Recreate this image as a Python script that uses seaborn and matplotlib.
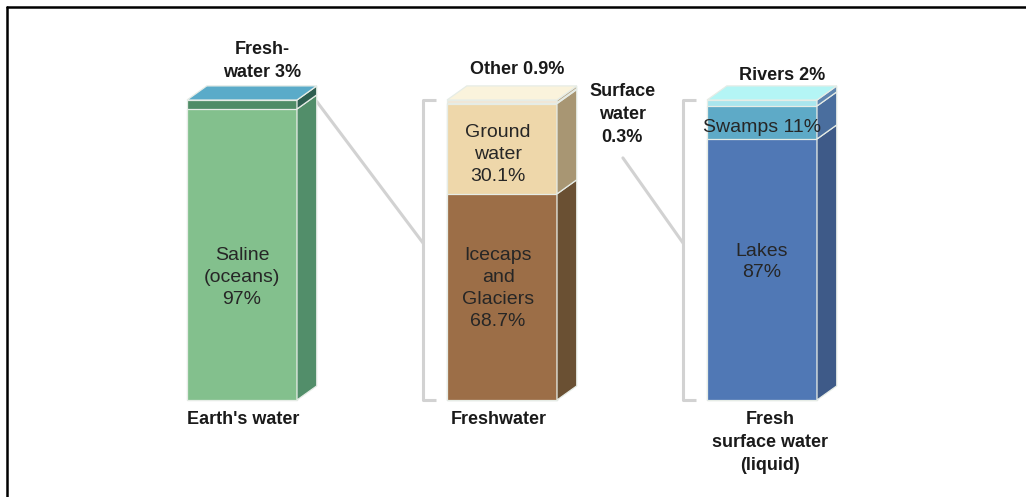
import matplotlib
matplotlib.use("Agg")
import matplotlib.pyplot as plt
from matplotlib import font_manager
from matplotlib.patches import Polygon
from matplotlib.lines import Line2D
import pandas as pd
import seaborn as sns

# ---- data -------------------------------------------------------------
categories = ["Earth's water", "Freshwater", "Fresh surface water (liquid)"]
category_labels = ["Earth's water", "Freshwater", "Fresh\nsurface water\n(liquid)"]

earth_parts = ["Saline (oceans)", "Freshwater"]
earth_values = [97.0, 3.0]

fresh_parts = ["Icecaps and Glaciers", "Ground water", "Surface water", "Other"]
fresh_values = [68.7, 30.1, 0.3, 0.9]

surface_parts = ["Lakes", "Swamps", "Rivers"]
surface_values = [87.0, 11.0, 2.0]

# ---- colours (front face, side face) -----------------------------------
front_colors = {
    "Saline (oceans)": "#83C08D", "Freshwater": "#4F8C66",
    "Icecaps and Glaciers": "#9C6E47", "Ground water": "#EED7AA",
    "Surface water": "#B85A3C", "Other": "#F1E7D6",
    "Lakes": "#5078B5", "Swamps": "#5EAAC7", "Rivers": "#A9E6EE",
}
side_colors = {
    "Saline (oceans)": "#528E6A", "Freshwater": "#2E5E50",
    "Icecaps and Glaciers": "#6A5033", "Ground water": "#A89673",
    "Surface water": "#7A4A30", "Other": "#B8A98C",
    "Lakes": "#3E5A88", "Swamps": "#4A6E9E", "Rivers": "#5F86B0",
}
top_colors = ["#5AABC9", "#FAF3DC", "#B4F5F5"]

rows = []
for cat, parts, vals in zip(categories,
                            [earth_parts, fresh_parts, surface_parts],
                            [earth_values, fresh_values, surface_values]):
    bottom = 0.0
    for p, v in zip(parts, vals):
        rows.append({"bar": cat, "part": p, "value": v,
                     "bottom": bottom, "top": bottom + v})
        bottom += v
df = pd.DataFrame(rows)

# ---- figure -----------------------------------------------------------
sns.set_theme(style="white")
plt.rcParams["font.family"] = ["Liberation Sans", "DejaVu Sans"]
installed = {f.name for f in font_manager.fontManager.ttflist}
narrow = "Liberation Sans Narrow" in installed
bold_family = ["Liberation Sans Narrow", "Liberation Sans"] if narrow else ["Liberation Sans", "DejaVu Sans"]
bold_size = 15 if narrow else 13

fig = plt.figure(figsize=(10.26, 4.97), dpi=100)
ax = fig.add_axes([0, 0, 1, 1])

W = 0.423          # bar width in category units
DX, DY = 0.076, 4.7  # depth offset of the 3-D faces
EDGE = "#E6ECE6"

# front faces: cumulative bars drawn from the top segment down
for cat in categories:
    sub = df[df["bar"] == cat].iloc[::-1]
    for _, r in sub.iterrows():
        sns.barplot(data=pd.DataFrame({"bar": [cat], "top": [r["top"]]}),
                    x="bar", y="top", order=categories,
                    color=front_colors[r["part"]], saturation=1,
                    width=W, edgecolor=EDGE, linewidth=0.9, ax=ax,
                    errorbar=None)

# side and top faces
for i, cat in enumerate(categories):
    sub = df[df["bar"] == cat]
    xl, xr = i - W / 2, i + W / 2
    for _, r in sub.iterrows():
        b, t = r["bottom"], r["top"]
        ax.add_patch(Polygon([(xr, b), (xr + DX, b + DY), (xr + DX, t + DY), (xr, t)],
                             closed=True, facecolor=side_colors[r["part"]],
                             edgecolor=EDGE, linewidth=0.9))
    total = sub["top"].max()
    ax.add_patch(Polygon([(xl, total), (xl + DX, total + DY),
                          (xr + DX, total + DY), (xr, total)],
                         closed=True, facecolor=top_colors[i],
                         edgecolor=EDGE, linewidth=0.9))

# brackets and connectors
GREY = "#D2D2D2"
for i in (1, 2):
    xb = i - W / 2 - 0.092
    total = df[df["bar"] == categories[i]]["top"].max()
    ax.plot([xb + 0.05, xb, xb, xb + 0.05], [total, total, 0, 0],
            color=GREY, lw=2.2, solid_capstyle="butt", zorder=0)
ax.plot([W / 2 + DX, 1 - W / 2 - 0.092], [99.5, 52.3], color=GREY, lw=2.2, zorder=0)
ax.plot([1.465, 2 - W / 2 - 0.092], [80.7, 52.3], color=GREY, lw=2.2, zorder=0)

# labels inside the bars
inner = dict(ha="center", va="center", fontsize=14, color="#262626", linespacing=1.38)
ax.text(0, 40.7, "Saline\n(oceans)\n97%", **inner)
ax.text(0.985, 81.7, "Ground\nwater\n30.1%", **inner)
ax.text(0.985, 37.2, "Icecaps\nand\nGlaciers\n68.7%", **inner)
ax.text(2.0, 90.7, "Swamps 11%", **inner)
ax.text(2.0, 46.0, "Lakes\n87%", **inner)

# bold callouts
bold = dict(ha="center", va="center", fontsize=bold_size, fontweight="bold",
            color="#1A1A1A", family=bold_family, linespacing=1.45)
ax.text(0.077, 113.0, "Fresh-\nwater 3%", **bold)
ax.text(1.058, 110.0, "Other 0.9%", **bold)
ax.text(1.462, 95.2, "Surface\nwater\n0.3%", **bold)
ax.text(2.077, 108.3, "Rivers 2%", **bold)

label_x = [0.004, 0.988, 2.03]
for x, lab in zip(label_x, category_labels):
    ax.text(x, -3.8, lab, ha="center", va="top", fontsize=bold_size,
            fontweight="bold", color="#1A1A1A", family=bold_family, linespacing=1.45)

ax.set_xlim(-242 / 260, (1026 - 242) / 260)
ax.set_ylim(-97 / 3, 100 + 100 / 3)
ax.set_axis_off()

# frame on the left and top edges
fig.add_artist(Line2D([6.5 / 1026, 6.5 / 1026], [0, 1 - 6.5 / 497],
                      transform=fig.transFigure, color="black", lw=1.8))
fig.add_artist(Line2D([6.5 / 1026, 1], [1 - 6.5 / 497, 1 - 6.5 / 497],
                      transform=fig.transFigure, color="black", lw=1.8))

fig.savefig("out.png", dpi=100, facecolor="white")
